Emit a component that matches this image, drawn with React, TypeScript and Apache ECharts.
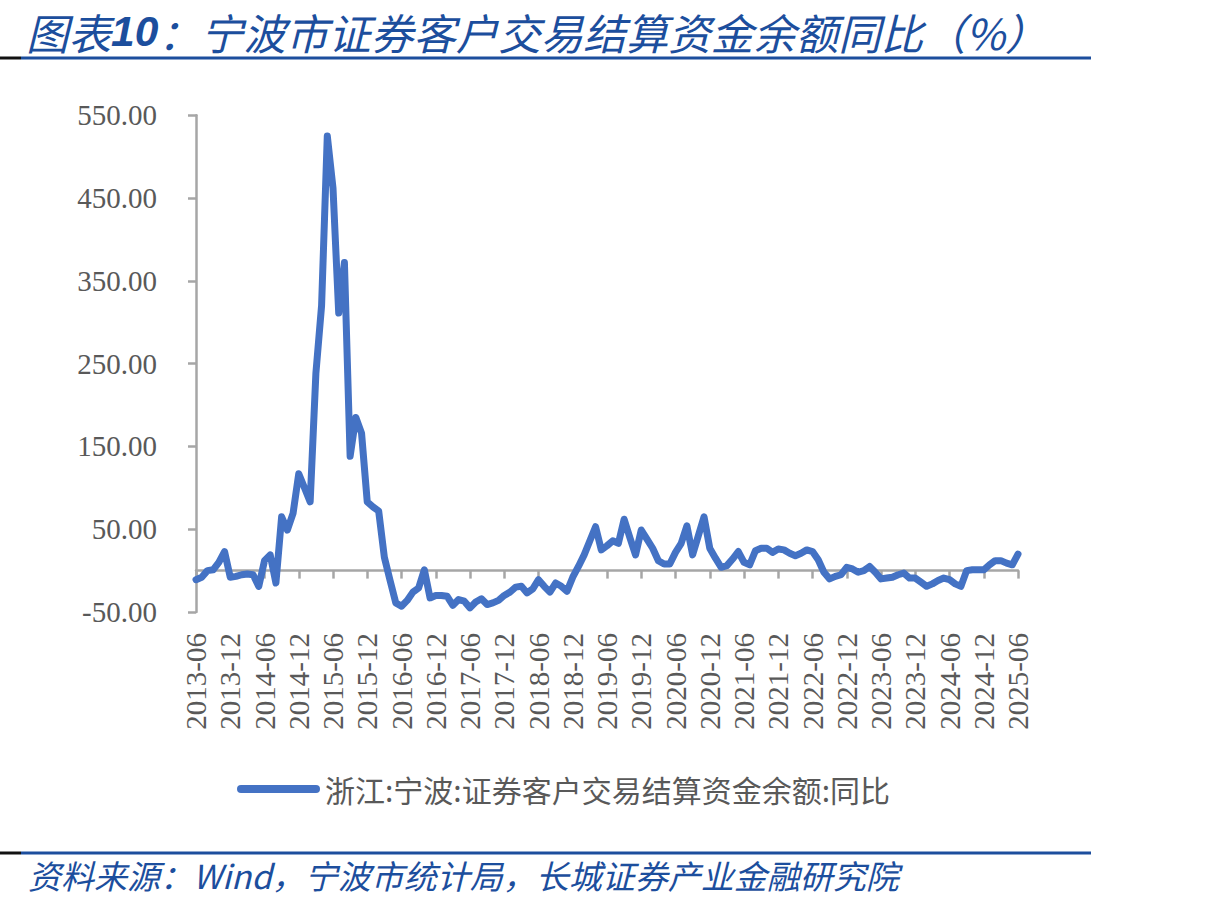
import React, { useEffect, useRef } from 'react';
import * as echarts from 'echarts';

// Monthly categories 2013-06 .. 2025-06
const startYear = 2013;
const startMonth = 6;
const monthCount = 145;
const categories: string[] = [];
for (let k = 0; k < monthCount; k++) {
  const m = startMonth - 1 + k;
  const y = startYear + Math.floor(m / 12);
  const mm = (m % 12) + 1;
  categories.push(`${y}-${mm < 10 ? '0' + mm : mm}`);
}

// 浙江:宁波:证券客户交易结算资金余额:同比 (%)
const yoyValues: number[] = [
  -11, -8, 0, 1, 10, 23, -8, -7, -5, -4, -5, -19,
  12, 19, -15, 65, 49, 69, 117, 100, 83, 238, 320, 525,
  462, 311, 372, 138, 185, 166, 83, 77, 72, 16, -12, -39,
  -43, -36, -26, -21, 1, -33, -30, -30, -31, -42, -35, -37,
  -45, -38, -34, -41, -39, -36, -30, -26, -20, -19, -27, -22,
  -11, -19, -26, -15, -19, -25, -8, 5, 19, 36, 53, 25,
  30, 36, 33, 62, 40, 19, 49, 38, 27, 12, 8, 8,
  22, 33, 54, 19, 42, 65, 27, 15, 4, 6, 14, 23,
  10, 7, 24, 27, 27, 22, 26, 25, 21, 18, 21, 25,
  23, 13, -2, -10, -7, -5, 4, 2, -2, 0, 5, -2,
  -10, -9, -8, -5, -3, -9, -9, -14, -19, -16, -12, -9,
  -11, -16, -19, 0, 1, 1, 1, 7, 12, 12, 9, 7,
  20,
];

const seriesName = '浙江:宁波:证券客户交易结算资金余额:同比';
const titleHead = '图表';
const titleNum = '10';
const titleText = '：宁波市证券客户交易结算资金余额同比（%）';
const sourceText = '资料来源：Wind，宁波市统计局，长城证券产业金融研究院';

const yMin = -50;
const yMax = 550;
const yStep = 100;

const BLUE = '#1c4e9d';
const AXIS = '#a6a6a6';
const TXT = '#595959';

export default function App() {
  const ref = useRef<HTMLDivElement>(null);
  useEffect(() => {
    document.body.style.margin = '0';
    if (!ref.current) return;
    const chart = echarts.init(ref.current, undefined, { renderer: 'svg' });
    const titleFont = 42.5;
    const titleY = 31;
    const option: any = {
      animation: false,
      backgroundColor: '#ffffff',
      grid: { left: 196, right: 192, top: 115.2, bottom: 297, containLabel: false },
      xAxis: [
        {
          type: 'category',
          data: categories,
          boundaryGap: false,
          axisLine: { show: true, onZero: true, onZeroAxisIndex: 0, lineStyle: { color: AXIS, width: 2.5 } },
          axisTick: { show: true, interval: 5, length: 8, lineStyle: { color: AXIS, width: 2.5 } },
          axisLabel: { show: false },
          splitLine: { show: false },
        },
        {
          type: 'category',
          data: categories,
          boundaryGap: false,
          position: 'bottom',
          axisLine: { show: false, onZero: false },
          axisTick: { show: false },
          splitLine: { show: false },
          axisLabel: {
            interval: 5,
            rotate: 90,
            margin: 21,
            fontFamily: 'Liberation Serif',
            fontSize: 29,
            color: TXT,
          },
        },
      ],
      yAxis: [
        {
          type: 'value',
          min: yMin,
          max: yMax,
          interval: yStep / 2,
          axisLine: { show: false },
          axisTick: { show: false },
          splitLine: { show: false },
          axisLabel: {
            margin: 39,
            fontFamily: 'Liberation Serif',
            fontSize: 29,
            color: TXT,
            formatter: (v: number) => ((Math.round(v - yMin) % yStep === 0) ? v.toFixed(2) : ''),
          },
        },
        {
          type: 'value',
          min: 0,
          max: yMax - yMin,
          interval: yStep,
          position: 'left',
          axisLine: { show: true, lineStyle: { color: AXIS, width: 2.5 } },
          axisTick: { show: true, length: 8, lineStyle: { color: AXIS, width: 2.5 } },
          axisLabel: { show: false },
          splitLine: { show: false },
        },
      ],
      legend: {
        left: 232,
        top: 769,
        icon: 'path://M4,0 L79,0 A4,4 0 0 1 79,8 L4,8 A4,4 0 0 1 4,0 Z',
        itemWidth: 83,
        itemHeight: 8,
        itemStyle: { color: '#4472c4' },
        textStyle: { fontFamily: 'Noto Sans CJK SC', fontSize: 30, color: TXT, padding: [0, 0, 0, 0] },
        data: [seriesName],
      },
      series: [
        {
          name: seriesName,
          type: 'line',
          data: yoyValues,
          xAxisIndex: 0,
          yAxisIndex: 0,
          symbol: 'none',
          showSymbol: false,
          lineStyle: { color: '#4472c4', width: 7, cap: 'round', join: 'round' },
          itemStyle: { color: '#4472c4' },
        },
      ],
      graphic: [
        {
          type: 'text',
          x: 26,
          y: titleY,
          style: {
            text: titleHead,
            fontFamily: 'Noto Sans CJK SC',
            fontStyle: 'italic',
            fontSize: titleFont,
            fill: BLUE,
            verticalAlign: 'middle',
          },
        },
        {
          type: 'text',
          x: 26 + 2 * titleFont,
          y: titleY,
          style: {
            text: titleNum,
            fontFamily: 'Liberation Sans',
            fontStyle: 'italic',
            fontWeight: 'bold',
            fontSize: titleFont,
            fill: BLUE,
            verticalAlign: 'middle',
          },
        },
        {
          type: 'text',
          x: 26 + 2 * titleFont + 1.112 * titleFont,
          y: titleY,
          style: {
            text: titleText,
            fontFamily: 'Noto Sans CJK SC',
            fontStyle: 'italic',
            fontSize: titleFont,
            fill: BLUE,
            verticalAlign: 'middle',
          },
        },
        { type: 'rect', shape: { x: 0, y: 56.5, width: 21, height: 3 }, style: { fill: '#111111' } },
        { type: 'rect', shape: { x: 21, y: 56.5, width: 1070, height: 3 }, style: { fill: BLUE } },
        { type: 'rect', shape: { x: 0, y: 851.5, width: 21, height: 3 }, style: { fill: '#111111' } },
        { type: 'rect', shape: { x: 21, y: 851.5, width: 1070, height: 3 }, style: { fill: BLUE } },
        {
          type: 'text',
          left: 28,
          top: 858,
          style: {
            text: sourceText,
            fontFamily: 'Noto Sans CJK SC',
            fontStyle: 'italic',
            fontSize: 33,
            fill: BLUE,
          },
        },
      ],
    };
    chart.setOption(option);
    return () => chart.dispose();
  }, []);
  return <div ref={ref} style={{ width: 1210, height: 909 }} />;
}
